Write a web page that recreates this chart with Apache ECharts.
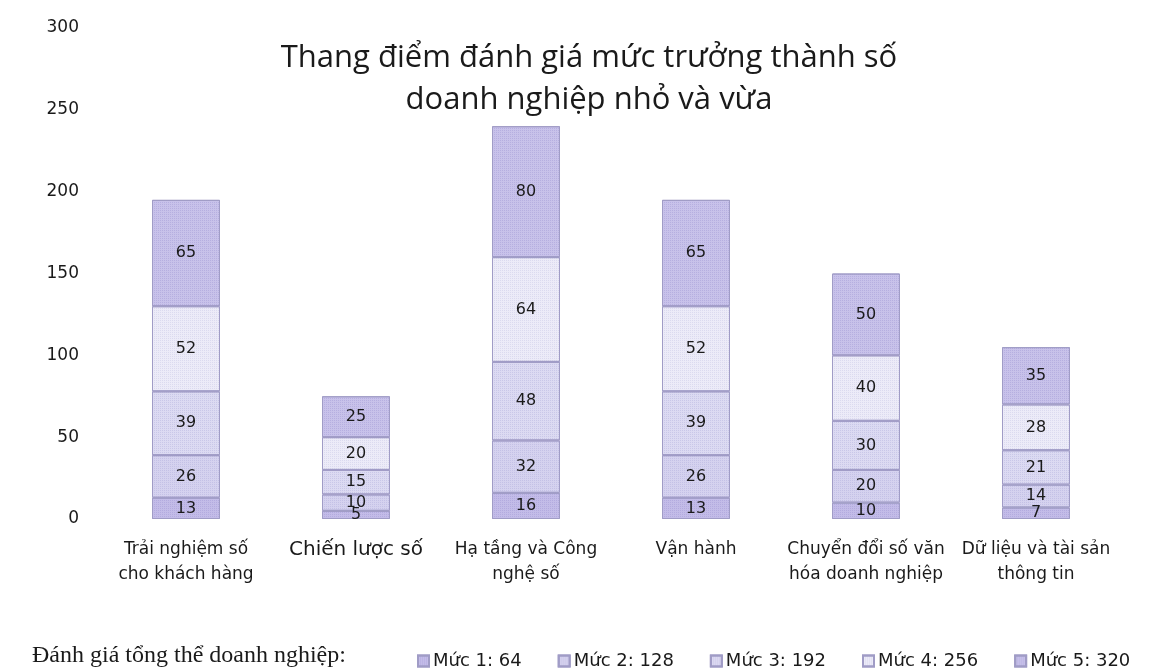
<!DOCTYPE html>
<html>
<head>
<meta charset="utf-8">
<script src="https://cdn.jsdelivr.net/npm/echarts@6/dist/echarts.min.js"></script>
<style>
html,body{margin:0;padding:0;background:#fff;}
#chart{width:1165px;height:670px;}
</style>
</head>
<body>
<div id="chart"></div>
<script>
const categories = [
  'Trải nghiệm số\ncho khách hàng',
  'Chiến lược số',
  'Hạ tầng và Công\nnghệ số',
  'Vận hành',
  'Chuyển đổi số văn\nhóa doanh nghiệp',
  'Dữ liệu và tài sản\nthông tin'
];
const levelNames = ['Mức 1', 'Mức 2', 'Mức 3', 'Mức 4', 'Mức 5'];
const levelScores = [64, 128, 192, 256, 320];
const level1 = [13, 5, 16, 13, 10, 7];
const level2 = [26, 10, 32, 26, 20, 14];
const level3 = [39, 15, 48, 39, 30, 21];
const level4 = [52, 20, 64, 52, 40, 28];
const level5 = [65, 25, 80, 65, 50, 35];
const yTicks = [0, 50, 100, 150, 200, 250, 300];

const levelData = [level1, level2, level3, level4, level5];
const colors = ['#c3bce8', '#d5d2ef', '#dcdaf2', '#ecebf8', '#c8c2ea'];
const decalColors = ['rgba(150,140,205,0.35)', 'rgba(160,155,210,0.3)', 'rgba(160,155,210,0.3)', 'rgba(180,180,220,0.3)', 'rgba(150,140,205,0.35)'];
const F = '"DejaVu Sans"';

const chart = echarts.init(document.getElementById('chart'));
const series = levelNames.map((n, i) => ({
  name: n,
  type: 'bar',
  stack: 'total',
  barWidth: 68,
  data: levelData[i],
  itemStyle: {
    color: colors[i],
    borderColor: '#a09cc6',
    borderWidth: 1,
    decal: {symbol: 'rect', symbolSize: 1, dashArrayX: [1, 1], dashArrayY: [1, 1], color: decalColors[i]}
  },
  label: {
    show: true,
    position: 'inside',
    color: '#1a1a1a',
    fontFamily: F,
    fontSize: 16
  }
}));

chart.setOption({
  backgroundColor: '#fff',
  animation: false,
  title: {
    text: 'Thang điểm đánh giá mức trưởng thành số\ndoanh nghiệp nhỏ và vừa',
    left: 584,
    textAlign: 'center',
    top: 32,
    textStyle: {fontFamily: 'Open Sans', fontSize: 31, fontWeight: 'normal', color: '#1a1a1a', lineHeight: 42}
  },
  graphic: [{
    type: 'text',
    left: 32,
    top: 644,
    style: {text: 'Đánh giá tổng thể doanh nghiệp:', font: '24px "Liberation Serif"', fill: '#1a1a1a'}
  }],
  legend: {
    left: 412,
    top: 647,
    itemWidth: 11,
    itemHeight: 11,
    itemGap: 36,
    icon: 'rect',
    data: levelNames,
    formatter: name => name + ': ' + levelScores[levelNames.indexOf(name)],
    textStyle: {fontFamily: F, fontSize: 18, color: '#1a1a1a', padding: [0, 0, 0, -1]}
  },
  grid: {left: 101, right: 44, top: 28, bottom: 151},
  xAxis: {
    type: 'category',
    data: categories,
    axisLine: {show: false},
    axisTick: {show: false},
    axisLabel: {
      interval: 0,
      margin: 18,
      fontFamily: F,
      fontSize: 17,
      lineHeight: 25,
      color: '#1a1a1a',
      formatter: v => v === 'Chiến lược số' ? '{big|' + v + '}' : v,
      rich: {big: {fontSize: 20, fontFamily: F, color: '#1a1a1a'}}
    }
  },
  yAxis: {
    type: 'value',
    min: yTicks[0],
    max: yTicks[yTicks.length - 1],
    interval: 50,
    axisLine: {show: false},
    axisTick: {show: false},
    splitLine: {show: false},
    axisLabel: {fontFamily: F, fontSize: 17, color: '#1a1a1a', margin: 22,
      formatter: v => yTicks.includes(v) ? String(v) : ''}
  },
  series: series
});
</script>
</body>
</html>
